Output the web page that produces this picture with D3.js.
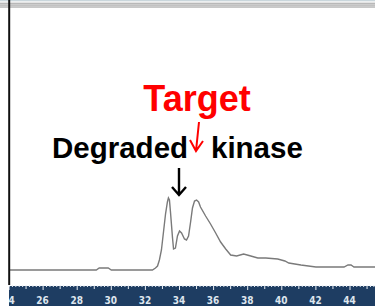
<!DOCTYPE html>
<html>
<head>
<meta charset="utf-8">
<script src="https://cdn.jsdelivr.net/npm/d3@7"></script>
<style>
body { margin: 0; background: #fff; }
svg { display: block; }
</style>
</head>
<body>
<script>
// retention time (min) and detector signal
const times = [24.09, 29.15, 29.32, 29.85, 30.03, 32.44, 32.62, 32.74, 32.85, 32.97,
    33.09, 33.21, 33.32, 33.38, 33.44, 33.5, 33.62, 33.68, 33.79, 33.91,
    34.03, 34.15, 34.32, 34.44, 34.56, 34.68, 34.79, 34.91, 35.03, 35.15,
    35.26, 35.56, 35.85, 36.15, 36.44, 36.74, 37.03, 37.38, 37.79, 38.21,
    38.62, 39.09, 39.79, 40.21, 40.44, 41.15, 42.03, 42.91, 43.68, 43.91,
    44.09, 44.26, 45.56];
const signal = [0, 0, 2, 2, 0, 0, 2, 4, 10, 20,
    38, 56, 68, 72, 70, 58, 32, 21, 22, 34,
    39, 37, 31, 30, 34, 48, 62, 69, 70, 68,
    63, 54, 46, 37, 28, 21, 15, 14, 16, 14,
    12, 12, 11, 9, 7, 5, 3, 3, 3, 5,
    5, 3, 3];
const tickLabels = [24, 26, 28, 30, 32, 34, 36, 38, 40, 42, 44];

const width = 375, height = 306;
const bandTop = 285;

const svg = d3.select("body").append("svg")
    .attr("width", width)
    .attr("height", height);

const x = d3.scaleLinear().domain([24, 46]).range([8.5, 8.5 + 22 * 17.05]);
const y = d3.scaleLinear().domain([0, 100]).range([270, 170]);

// window title stripes
const stripes = [["#c9d6dc", 0, 1.5], ["#f4f4f4", 1.5, 1], ["#cfcfcf", 2.5, 1],
    ["#8a8a8a", 3.5, 1], ["#d4d4d4", 4.5, 1], ["#9c9c9c", 5.5, 1], ["#c8c8c8", 6.5, 1.5]];
stripes.forEach(([c, y0, h]) => {
    svg.append("rect").attr("x", 0).attr("y", y0).attr("width", width).attr("height", h).attr("fill", c);
});

// trace
const line = d3.line()
    .x((d, i) => x(times[i]))
    .y(d => y(d));

svg.append("path")
    .datum(signal)
    .attr("d", line)
    .attr("fill", "none")
    .attr("stroke", "#7a7a7a")
    .attr("stroke-width", 1.4);

// left frame line
svg.append("line")
    .attr("x1", 9.2).attr("x2", 9.2)
    .attr("y1", 0).attr("y2", bandTop)
    .attr("stroke", "#111")
    .attr("stroke-width", 2);

// axis band
svg.append("defs").append("clipPath").attr("id", "band")
    .append("rect").attr("x", 9).attr("y", bandTop).attr("width", width - 9).attr("height", height - bandTop);

const band = svg.append("g").attr("clip-path", "url(#band)");
band.append("rect")
    .attr("x", 9).attr("y", bandTop)
    .attr("width", width - 9).attr("height", height - bandTop)
    .attr("fill", "#1e3d62");

const minor = d3.range(24, 46.01, 0.2);
const xAxis = d3.axisBottom(x)
    .tickValues(minor)
    .tickSize(2)
    .tickFormat("");
const axisG = band.append("g")
    .attr("transform", `translate(0,${bandTop})`)
    .call(xAxis);
axisG.select(".domain").attr("stroke", "#fff").attr("stroke-width", 1);
axisG.selectAll(".tick line")
    .attr("stroke", "#e8eef5")
    .attr("y2", d => Math.abs(d - Math.round(d)) < 0.01 ? (Math.round(d) % 2 === 0 ? 5 : 4) : 2);

band.selectAll("text.lbl")
    .data(tickLabels)
    .enter().append("text")
    .attr("class", "lbl")
    .attr("x", d => x(d))
    .attr("y", 304)
    .attr("text-anchor", "middle")
    .attr("fill", "#dfe6ee")
    .style("font-family", "'DejaVu Sans Condensed', 'DejaVu Sans', sans-serif")
    .style("font-weight", "bold")
    .style("font-size", "10px")
    .text(d => d);

// annotations
svg.append("text")
    .attr("x", 197).attr("y", 111)
    .attr("text-anchor", "middle")
    .attr("fill", "#ff0000")
    .style("font-family", "'Liberation Sans', Arial, sans-serif")
    .style("font-weight", "bold")
    .style("font-size", "36px")
    .text("Target");

svg.append("text")
    .attr("x", 52).attr("y", 158)
    .attr("fill", "#000")
    .style("font-family", "'Liberation Sans', Arial, sans-serif")
    .style("font-weight", "bold")
    .style("font-size", "29.5px")
    .text("Degraded");

svg.append("text")
    .attr("x", 211).attr("y", 158)
    .attr("fill", "#000")
    .style("font-family", "'Liberation Sans', Arial, sans-serif")
    .style("font-weight", "bold")
    .style("font-size", "29.5px")
    .text("kinase");

// red arrow
svg.append("path")
    .attr("d", "M199,122 L196,151 M190,140 L196,151 L203,141")
    .attr("fill", "none")
    .attr("stroke", "#ff0000")
    .attr("stroke-width", 2)
    .attr("stroke-linejoin", "miter");

// black arrow
svg.append("path")
    .attr("d", "M179,168 L179,195 M172,187 L179,195 L186,187")
    .attr("fill", "none")
    .attr("stroke", "#000")
    .attr("stroke-width", 2.4);
</script>
</body>
</html>
